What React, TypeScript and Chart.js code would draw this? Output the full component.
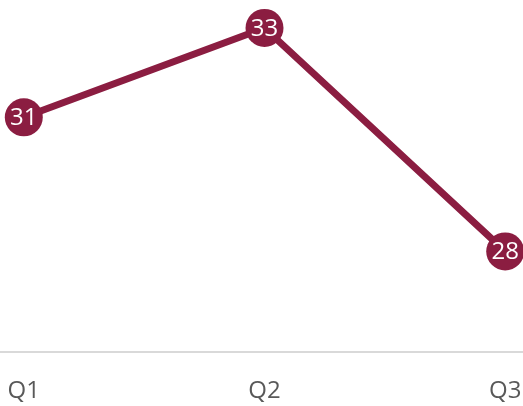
import React, { useEffect, useRef } from "react";
import { Chart, registerables } from "chart.js";

Chart.register(...registerables);

const categories = ["Q1", "Q2", "Q3"];
const values = [31, 33, 28];

const lineColor = "#8B1D41";

const valueLabels = {
  id: "valueLabels",
  beforeDatasetsDraw(chart: any) {
    const ctx = chart.ctx;
    const y = chart.chartArea.bottom;
    ctx.save();
    ctx.strokeStyle = "#d9d9d9";
    ctx.lineWidth = 2;
    ctx.beginPath();
    ctx.moveTo(0, y);
    ctx.lineTo(chart.width, y);
    ctx.stroke();
    ctx.restore();
  },
  afterDatasetsDraw(chart: any) {
    const ctx = chart.ctx;
    const meta = chart.getDatasetMeta(0);
    const data = chart.data.datasets[0].data as number[];
    ctx.save();
    ctx.fillStyle = "#ffffff";
    ctx.font = '24px "Open Sans", sans-serif';
    ctx.textAlign = "center";
    ctx.textBaseline = "middle";
    meta.data.forEach((pt: any, i: number) => {
      ctx.fillText(String(data[i]), pt.x, pt.y + 1);
    });
    ctx.restore();
  },
};

export default function App() {
  const ref = useRef<HTMLCanvasElement | null>(null);
  useEffect(() => {
    if (!ref.current) return;
    const chart = new Chart(ref.current, {
      type: "line",
      data: {
        labels: categories,
        datasets: [
          {
            data: values,
            borderColor: lineColor,
            backgroundColor: lineColor,
            borderWidth: 7,
            pointRadius: 19,
            pointHoverRadius: 19,
            pointBackgroundColor: lineColor,
            pointBorderColor: lineColor,
            pointBorderWidth: 0,
            tension: 0,
            clip: false,
          },
        ],
      },
      options: {
        responsive: false,
        animation: false,
        events: [],
        layout: { padding: { left: 23, right: 18, top: 0, bottom: 0 } },
        plugins: { legend: { display: false }, tooltip: { enabled: false } },
        scales: {
          x: {
            offset: false,
            grid: { display: false, drawTicks: false },
            border: { display: false },
            ticks: {
              color: "#595959",
              padding: 24.6,
              font: { family: '"Open Sans", sans-serif', size: 24 },
              maxRotation: 0,
              autoSkip: false,
            },
          },
          y: {
            display: false,
            min: 25.75,
            max: 33.58,
          },
        },
      },
      plugins: [valueLabels],
    });
    return () => chart.destroy();
  }, []);
  return (
    <div style={{ position: "fixed", left: 0, top: 0, width: 523, height: 406, overflow: "hidden", background: "#fff" }}>
      <canvas
        ref={ref}
        width={563}
        height={447}
        style={{ display: "block", position: "absolute", left: -17, top: -17, width: 563, height: 447 }}
      />
    </div>
  );
}
